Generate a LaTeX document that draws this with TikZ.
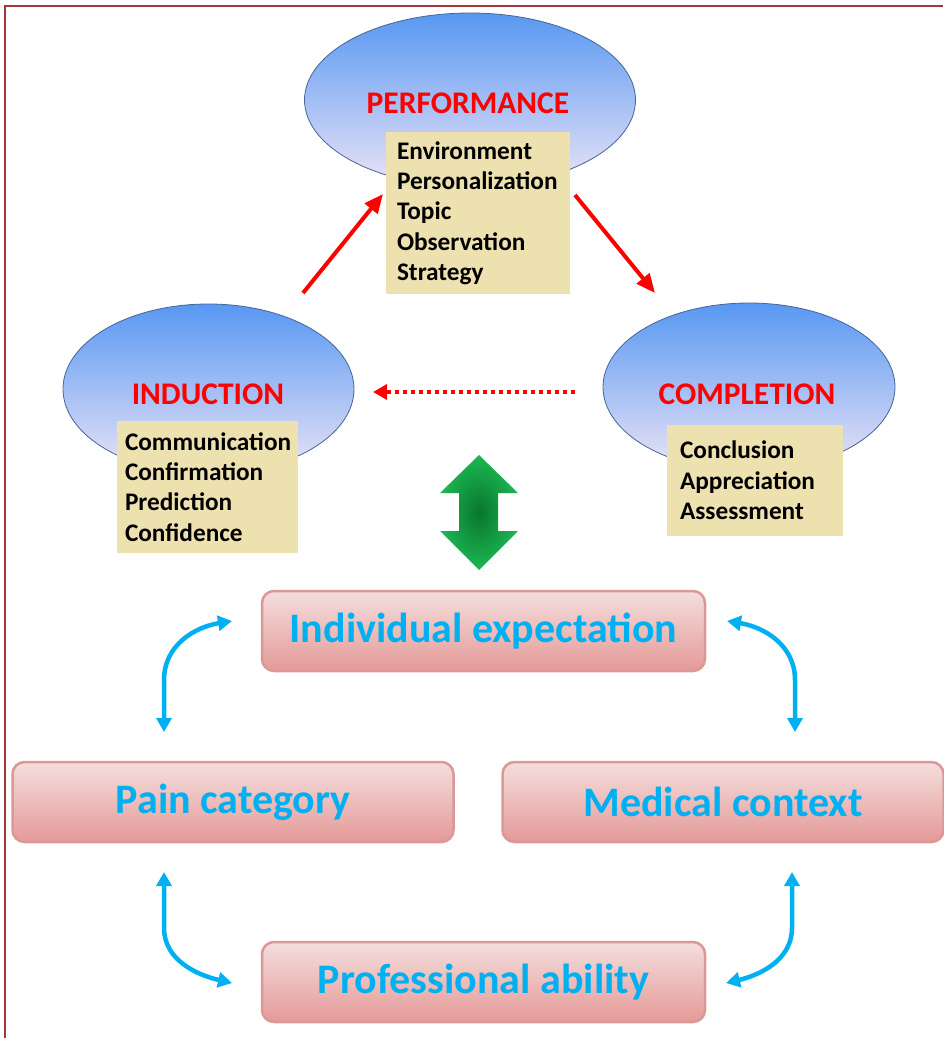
\documentclass[tikz,border=0pt]{standalone}
\usepackage{fontspec}
\setmainfont{Carlito}
\usetikzlibrary{shapes.geometric,arrows.meta}

\definecolor{framered}{RGB}{160,56,56}
\definecolor{ovaltop}{RGB}{88,152,242}
\definecolor{ovalmid}{RGB}{128,190,252}
\definecolor{ovalbot}{RGB}{236,228,246}
\definecolor{ovalline}{RGB}{72,100,150}
\definecolor{listfill}{RGB}{238,225,176}
\definecolor{pinktop}{RGB}{243,222,221}
\definecolor{pinkbot}{RGB}{228,154,152}
\definecolor{pinkline}{RGB}{218,152,150}
\definecolor{skyblue}{RGB}{0,176,240}
\definecolor{arrowgreen}{RGB}{28,182,82}
\definecolor{darkgreen}{RGB}{8,118,46}

\tikzset{every picture/.style={line width=0.75pt}}

\begin{document}
\begin{tikzpicture}[x=1pt,y=1pt,yscale=-1,
  phase/.style={ellipse, draw=ovalline, line width=0.8pt, top color=ovaltop, middle color=ovalmid, bottom color=ovalbot, inner sep=0pt},
  phasetitle/.style={text=red, font=\fontsize{31.5}{36}\selectfont\bfseries, inner sep=0.75pt},
  listbox/.style={fill=listfill, align=left, inner ysep=0pt, font=\fontsize{25.3}{30.3}\selectfont\bfseries},
  factor/.style={rounded corners=12pt, draw=pinkline, line width=2.5pt, top color=pinktop, bottom color=pinkbot, minimum width=441, minimum height=80, text=skyblue, font=\fontsize{42}{48}\selectfont\bfseries},
  redarrow/.style={draw=red, line width=4pt, -{Triangle[length=19pt,width=16pt]}},
  bluearrow/.style={draw=skyblue, line width=4.5pt, {Triangle[length=14pt,width=15pt]}-{Triangle[length=14pt,width=15pt]}}]
\useasboundingbox (0,0) rectangle (943,1038);

%Frame
\draw [framered, line width=2pt] (5,1038) -- (5,6.5) -- (943,6.5) ;

%Shape: Ellipse [performance]
\node [phase, minimum width=331, minimum height=174] (perf) at (470,100) {};
%Shape: Ellipse [induction]
\node [phase, minimum width=291, minimum height=170] (ind) at (208.5,389) {};
%Shape: Ellipse [completion]
\node [phase, minimum width=292, minimum height=168] (comp) at (749,387) {};

% Text Node
\node [phasetitle] (perftitle) at (468,103) {PERFORMANCE};
% Text Node
\node [phasetitle] (indtitle) at (208,394) {INDUCTION};
% Text Node
\node [phasetitle] (comptitle) at (747,394) {COMPLETION};

% Text Node
\node [listbox, minimum width=184, minimum height=162, inner xsep=11pt, text width=162] (perflist) at (478,213) {Environment\\Personalization\\Topic\\Observation\\Strategy};
% Text Node
\node [listbox, minimum width=181, minimum height=132, inner xsep=8pt, text width=165] (indlist) at (207.5,487) {Communication\\Confirmation\\Prediction\\Confidence\par\vspace*{8pt}};
% Text Node
\node [listbox, minimum width=176, minimum height=111, inner xsep=13pt, text width=150] (complist) at (755,480.5) {Conclusion\\Appreciation\\Assessment\par\vspace*{10pt}};

%Straight Lines
\coordinate (up1) at (303,293);
\coordinate (up2) at (383,194);
\draw [redarrow] (up1) -- (up2) ;
%Straight Lines
\coordinate (down1) at (575,195);
\coordinate (down2) at (655,293);
\draw [redarrow] (down1) -- (down2) ;
%Straight Lines (dotted)
\coordinate (back1) at (575,392);
\coordinate (back2) at (373,392);
\draw [draw=red, line width=4pt, dash pattern=on 4pt off 4pt, -{Triangle[length=14pt,width=15pt]}] (back1) -- (back2) ;

%Shape: Up Down Arrow
\shade [inner color=darkgreen, outer color=arrowgreen] (479,455) -- (518,493) -- (498,493) -- (498,531) -- (518,531) -- (479,570) -- (440,531) -- (459,531) -- (459,493) -- (440,493) -- cycle ;

%Shape: Rounded Rect
\node [factor, minimum width=443] (indiv) at (483.5,631) {Individual expectation};
%Shape: Rounded Rect
\node [factor] (pain) at (233,802) {Pain category};
%Shape: Rounded Rect
\node [factor] (medical) at (723,802) {Medical context};
%Shape: Rounded Rect
\node [factor, minimum width=443] (prof) at (483.5,982) {Professional ability};

%Curve Lines
\coordinate (tl1) at (164,732);
\coordinate (tl2) at (232,621);
\draw [bluearrow] (tl1) -- (164,680) .. controls (164,645) and (195,627) .. (tl2) ;
%Curve Lines
\coordinate (tr1) at (795,732);
\coordinate (tr2) at (727,621);
\draw [bluearrow] (tr1) -- (795,680) .. controls (795,645) and (764,627) .. (tr2) ;
%Curve Lines
\coordinate (bl1) at (164,872);
\coordinate (bl2) at (232,983);
\draw [bluearrow] (bl1) -- (164,928) .. controls (164,960) and (197,975) .. (bl2) ;
%Curve Lines
\coordinate (br1) at (792,872);
\coordinate (br2) at (726,983);
\draw [bluearrow] (br1) -- (792,928) .. controls (792,960) and (760,975) .. (br2) ;

\end{tikzpicture}
\end{document}
